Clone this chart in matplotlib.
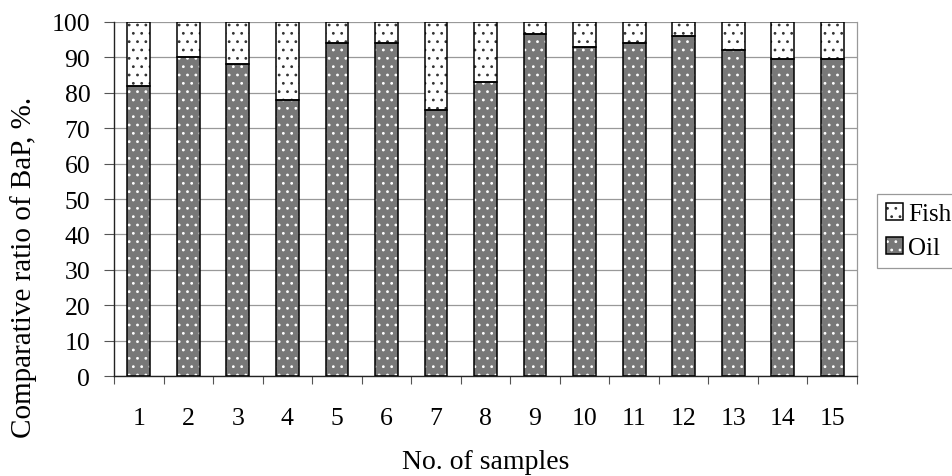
import numpy as np
import matplotlib
matplotlib.use("Agg")
import matplotlib.pyplot as plt
from matplotlib.patches import Patch
from matplotlib.legend_handler import HandlerTuple

samples = [str(i) for i in range(1, 16)]
oil = [82, 90, 88, 78, 94, 94, 75, 83, 96.5, 93, 94, 96, 92, 89.5, 89.5]
fish = [100 - v for v in oil]
y_ticks = list(range(0, 101, 10))

plt.rcParams["font.family"] = ["Liberation Serif", "DejaVu Serif"]
plt.rcParams["hatch.linewidth"] = 0.8

fig = plt.figure(figsize=(9.53, 4.77), dpi=100)
ax = fig.add_axes([0.1196, 0.2096, 0.7797, 0.7422])

x = np.arange(len(samples))
w = 0.46
oil_gray = "#787878"

# filled parts with dotted hatching, then black outlines on top
ax.bar(x, oil, w, color=oil_gray, edgecolor="white", hatch="..", linewidth=0, zorder=2)
ax.bar(x, fish, w, bottom=oil, color="white", edgecolor="#333333", hatch="..", linewidth=0, zorder=2)
ax.bar(x, oil, w, fill=False, edgecolor="black", linewidth=1.1, zorder=3)
ax.bar(x, fish, w, bottom=oil, fill=False, edgecolor="black", linewidth=1.1, zorder=3)

ax.set_xlim(-0.5, len(samples) - 0.5)
ax.set_ylim(0, 100)
ax.set_yticks(y_ticks)
ax.set_xticks(x)
ax.set_xticklabels(samples)
ax.set_xticks(np.arange(len(samples) + 1) - 0.5, minor=True)
ax.tick_params(axis="x", which="major", length=0, pad=22, labelsize=18.5)
ax.tick_params(axis="x", which="minor", length=6, width=0.8, color="#555555", direction="out")
ax.tick_params(axis="y", length=7, width=0.8, color="#555555", pad=10, labelsize=18.5)

ax.yaxis.grid(True, color="#999999", linewidth=0.9, zorder=0)
ax.set_axisbelow(True)
for side in ["left", "bottom"]:
    ax.spines[side].set_color("#222222")
    ax.spines[side].set_linewidth(1.0)
ax.spines["top"].set_visible(False)
ax.spines["right"].set_color("#999999")
ax.spines["right"].set_linewidth(0.9)

ax.set_ylabel("Comparative ratio of BaP, %.", fontsize=21)
ax.yaxis.set_label_coords(-0.122, 0.31)
ax.yaxis.label.set_va("center")
ax.set_xlabel("No. of samples", fontsize=20, labelpad=15)

fish_h = (Patch(facecolor="white", edgecolor="#333333", hatch="..", linewidth=0),
          Patch(fill=False, edgecolor="black", linewidth=1.1))
oil_h = (Patch(facecolor=oil_gray, edgecolor="white", hatch="..", linewidth=0),
         Patch(fill=False, edgecolor="black", linewidth=1.1))
leg = fig.legend([fish_h, oil_h], ["Fish", "Oil"],
                 handler_map={tuple: HandlerTuple(ndivide=1, pad=0)},
                 loc="upper left", bbox_to_anchor=(0.920, 0.591),
                 fontsize=18, handlelength=0.7, handleheight=0.7, handletextpad=0.2,
                 labelspacing=0.45, borderpad=0.35, fancybox=False, framealpha=1,
                 edgecolor="#999999", borderaxespad=0)
leg.get_frame().set_linewidth(0.9)

fig.savefig("out.png", dpi=100)
